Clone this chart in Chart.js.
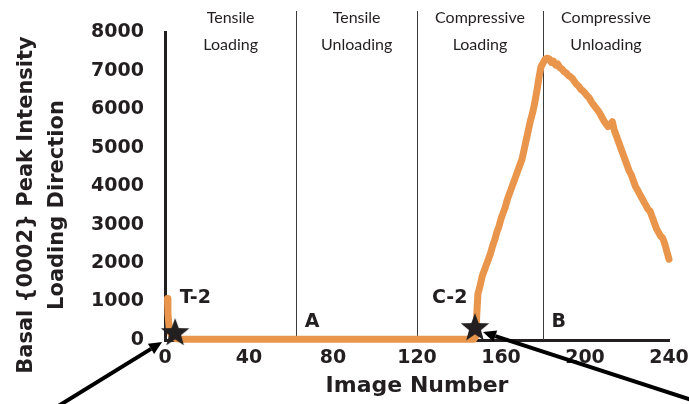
<!DOCTYPE html>
<html>
<head>
<meta charset="utf-8">
<script src="https://cdn.jsdelivr.net/npm/chart.js@4.4.0/dist/chart.umd.min.js"></script>
<style>
  html, body { margin: 0; padding: 0; background: #fff; }
  #wrap { width: 689px; height: 404px; position: relative; }
</style>
</head>
<body>
<div id="wrap"><canvas id="chart"></canvas></div>
<script>
// Basal {0002} peak intensity vs image number
const imageNumbers = [
    1.2, 1.4, 2, 3, 5, 8, 30, 62, 90, 120, 147,
    148, 148.5, 149, 150, 151, 152, 153, 154, 155, 156, 157, 158, 159, 160,
    161, 162, 163, 164, 165, 166, 167, 168, 169, 170, 171, 172, 173, 174, 175,
    176, 177, 178, 179, 180, 181, 182, 183, 184, 185, 186, 187, 188, 189, 190,
    191, 192, 193, 194, 195, 196, 197, 198, 199, 200, 201, 202, 203, 204, 205,
    206, 207, 208, 209, 210, 211, 212, 213, 214, 215, 216, 217, 218, 219, 220,
    221, 222, 223, 224, 225, 226, 227, 228, 229, 230, 231, 232, 233, 234, 235,
    236, 237, 238, 239, 240
];
const intensity = [
    1080, 700, 300, 120, 40, 20, 20, 20, 20, 20, 20,
    100, 700, 1200, 1400, 1650, 1800, 1950, 2100, 2250, 2450, 2600, 2800, 2950, 3150,
    3300, 3450, 3650, 3800, 3950, 4100, 4250, 4400, 4550, 4700, 4950, 5200, 5450, 5700, 5900,
    6150, 6450, 6800, 7100, 7200, 7300, 7330, 7310, 7220, 7250, 7150, 7180, 7080, 7050, 6980,
    6950, 6880, 6850, 6800, 6720, 6650, 6600, 6520, 6480, 6420, 6350, 6300, 6200, 6120, 6050,
    5980, 5900, 5800, 5700, 5620, 5550, 5600, 5680, 5450, 5300, 5150, 5000, 4850, 4700, 4550,
    4400, 4300, 4150, 4000, 3900, 3800, 3700, 3600, 3500, 3400, 3350, 3200, 3050, 2900, 2800,
    2700, 2650, 2500, 2300, 2100
];

const xTicks = [0, 40, 80, 120, 160, 200, 240];
const yTicks = [0, 1000, 2000, 3000, 4000, 5000, 6000, 7000, 8000];

// loading phases
const phaseBounds = [0, 62.5, 120, 180, 240];
const phaseNames = [
    ['Tensile', 'Loading'],
    ['Tensile', 'Unloading'],
    ['Compressive', 'Loading'],
    ['Compressive', 'Unloading']
];

// starred points and letter labels
const starNames = ['T-2', 'C-2'];
const starX = [4.8, 147.6];
const starY = [180, 310];
const letterNames = ['A', 'B'];
const letterX = [70, 187.5];
const letterY = [470, 470];

const INK = '#231f20';
const ORANGE = '#e9964c';
const BOLD = 'bold 19px "DejaVu Sans"';

function makeStar(r) {
    const c = document.createElement('canvas');
    c.width = c.height = r * 2 + 2;
    const g = c.getContext('2d');
    g.fillStyle = INK;
    g.beginPath();
    for (let i = 0; i < 10; i++) {
        const rad = i % 2 ? r * 0.42 : r;
        const a = -Math.PI / 2 + i * Math.PI / 5;
        const px = r + 1 + rad * Math.cos(a);
        const py = r + 1 + rad * Math.sin(a);
        i ? g.lineTo(px, py) : g.moveTo(px, py);
    }
    g.closePath();
    g.fill();
    return c;
}

function arrow(ctx, tx, ty, dx, dy, len) {
    const n = Math.hypot(dx, dy);
    const ux = dx / n, uy = dy / n;
    const head = 13, half = 6;
    const bx = tx + ux * head, by = ty + uy * head;
    ctx.save();
    ctx.strokeStyle = '#000';
    ctx.fillStyle = '#000';
    ctx.lineWidth = 4;
    ctx.beginPath();
    ctx.moveTo(bx, by);
    ctx.lineTo(tx + ux * len, ty + uy * len);
    ctx.stroke();
    ctx.beginPath();
    ctx.moveTo(tx, ty);
    ctx.lineTo(bx - uy * half, by + ux * half);
    ctx.lineTo(bx + uy * half, by - ux * half);
    ctx.closePath();
    ctx.fill();
    ctx.restore();
}

const annotations = {
    id: 'annotations',
    beforeDatasetsDraw(chart) {
        const { ctx, chartArea, scales: { x } } = chart;
        ctx.save();
        ctx.strokeStyle = '#3a3a3a';
        ctx.lineWidth = 1;
        phaseBounds.slice(1, -1).forEach(v => {
            const px = Math.round(x.getPixelForValue(v)) + 0.5;
            ctx.beginPath();
            ctx.moveTo(px, 11);
            ctx.lineTo(px, chartArea.bottom);
            ctx.stroke();
        });
        ctx.fillStyle = INK;
        ctx.font = '16px Lato';
        ctx.textAlign = 'center';
        ctx.textBaseline = 'middle';
        phaseNames.forEach((lines, i) => {
            const cx = x.getPixelForValue((phaseBounds[i] + phaseBounds[i + 1]) / 2);
            lines.forEach((t, j) => ctx.fillText(t, cx, 18 + j * 27));
        });
        ctx.restore();
    },
    afterDatasetsDraw(chart) {
        const { ctx, scales: { x, y } } = chart;
        ctx.save();
        ctx.fillStyle = INK;
        ctx.font = BOLD;
        ctx.textBaseline = 'middle';
        ctx.textAlign = 'left';
        ctx.fillText(starNames[0], x.getPixelForValue(7), y.getPixelForValue(1100));
        ctx.textAlign = 'right';
        ctx.fillText(starNames[1], x.getPixelForValue(144), y.getPixelForValue(1100));
        ctx.textAlign = 'center';
        letterNames.forEach((t, i) => {
            ctx.fillText(t, x.getPixelForValue(letterX[i]), y.getPixelForValue(letterY[i]));
        });
        ctx.restore();

        // arrows pointing at the starred points
        const s0x = x.getPixelForValue(starX[0]), s0y = y.getPixelForValue(starY[0]);
        const s1x = x.getPixelForValue(starX[1]), s1y = y.getPixelForValue(starY[1]);
        arrow(ctx, s0x - 13, s0y + 9, -99, 61, 140);
        arrow(ctx, s1x + 8, s1y + 4, 206, 67, 240);
    },
    afterDraw(chart) {
        const { ctx } = chart;
        ctx.save();
        ctx.fillStyle = INK;
        ctx.font = 'bold 21px "DejaVu Sans"';
        ctx.textAlign = 'center';
        ctx.textBaseline = 'middle';
        ctx.translate(0, 205);
        ctx.rotate(-Math.PI / 2);
        ctx.fillText('Basal {0002} Peak Intensity', 0, 27);
        ctx.fillText('Loading Direction', 0, 58);
        ctx.restore();
    }
};

new Chart(document.getElementById('chart'), {
    type: 'scatter',
    data: {
        datasets: [{
            label: 'Intensity',
            data: imageNumbers.map((v, i) => ({ x: v, y: intensity[i] })),
            showLine: true,
            borderColor: ORANGE,
            borderWidth: 7,
            borderJoinStyle: 'round',
            borderCapStyle: 'round',
            pointRadius: 0,
            tension: 0,
            clip: false,
            order: 2
        }, {
            label: 'Stars',
            data: starX.map((v, i) => ({ x: v, y: starY[i] })),
            showLine: false,
            pointStyle: makeStar(15),
            pointRadius: 15,
            clip: false,
            order: 1
        }]
    },
    options: {
        responsive: true,
        maintainAspectRatio: false,
        animation: false,
        events: [],
        layout: { padding: { left: 0, right: 20, top: 30, bottom: 0 } },
        plugins: { legend: { display: false }, tooltip: { enabled: false } },
        scales: {
            x: {
                type: 'linear',
                min: 0,
                max: 240,
                afterBuildTicks: s => { s.ticks = xTicks.map(v => ({ value: v })); },
                afterFit: s => { s.height = 64; s.paddingLeft = 0; s.paddingRight = 0; },
                grid: { display: false, drawTicks: false },
                border: { display: true, color: INK, width: 3 },
                ticks: {
                    color: INK,
                    font: { family: 'DejaVu Sans', size: 19, weight: 'bold' },
                    padding: 7,
                    maxRotation: 0,
                    callback: v => String(v)
                },
                title: {
                    display: true,
                    text: 'Image Number',
                    color: INK,
                    font: { family: 'DejaVu Sans', size: 22, weight: 'bold' },
                    padding: { top: 0, bottom: 5 }
                }
            },
            y: {
                min: 0,
                max: 8000,
                afterBuildTicks: s => { s.ticks = yTicks.map(v => ({ value: v })); },
                afterFit: s => { s.width = 165; },
                grid: { display: false, drawTicks: false },
                border: { display: true, color: INK, width: 3 },
                ticks: {
                    color: INK,
                    font: { family: 'DejaVu Sans', size: 19, weight: 'bold' },
                    padding: 21,
                    callback: v => String(v)
                }
            }
        }
    },
    plugins: [annotations]
});
</script>
</body>
</html>
